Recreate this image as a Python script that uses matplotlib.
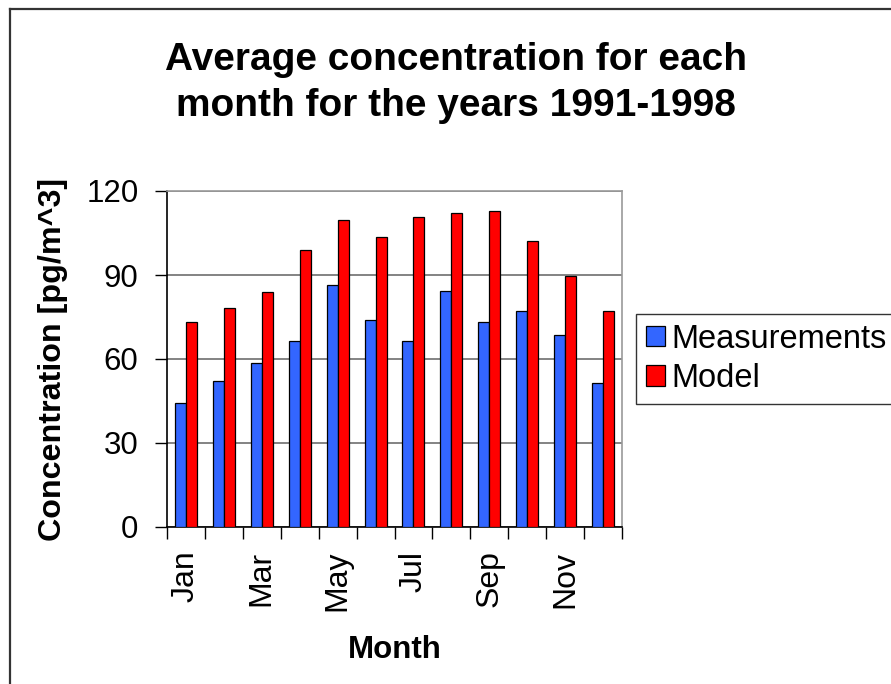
import matplotlib
matplotlib.use("Agg")
import matplotlib.pyplot as plt
import numpy as np
from matplotlib.lines import Line2D

months = ["Jan", "Feb", "Mar", "Apr", "May", "Jun",
          "Jul", "Aug", "Sep", "Oct", "Nov", "Dec"]
measurements = [44.4, 52.0, 58.5, 66.3, 86.3, 73.9, 66.4, 84.4, 73.2, 77.1, 68.5, 51.3]
model = [73.1, 78.3, 83.8, 99.0, 109.5, 103.5, 110.7, 112.3, 112.7, 102.3, 89.5, 77.1]
yticks = [0, 30, 60, 90, 120]

plt.rcParams['font.family'] = ['Liberation Sans', 'DejaVu Sans']

W, H = 891, 684
fig = plt.figure(figsize=(W / 100, H / 100), dpi=100)
fig.patch.set_facecolor('white')

# outer chart frame (extends past right/bottom edges)
fig.add_artist(Line2D([10 / W, 10 / W], [0, 1 - 9 / H], transform=fig.transFigure,
                      color='#333333', lw=1.6))
fig.add_artist(Line2D([10 / W, 1], [1 - 9 / H, 1 - 9 / H], transform=fig.transFigure,
                      color='#333333', lw=1.6))

left, right, top, bottom = 167, 622, 191, 527
ax = fig.add_axes([left / W, 1 - bottom / H, (right - left) / W, (bottom - top) / H])

x = np.arange(len(months))
w = 0.29
ax.bar(x - w / 2, measurements, w, color='#3366FF', edgecolor='black', linewidth=0.9,
       label='Measurements', zorder=3)
ax.bar(x + w / 2, model, w, color='#FF0000', edgecolor='black', linewidth=0.9,
       label='Model', zorder=3)

ax.set_xlim(-0.5, len(months) - 0.5)
ax.set_ylim(0, 120)
ax.set_yticks(yticks)
ax.set_yticklabels([str(v) for v in yticks], fontsize=22.5)
ax.yaxis.grid(True, color='#6e6e6e', linewidth=1.2, zorder=0)
ax.set_axisbelow(True)

# major ticks at category boundaries, labels at every other category center
ax.set_xticks(np.arange(-0.5, len(months), 1.0))
ax.set_xticklabels([])
ax.set_xticks(x[::2], minor=True)
ax.set_xticklabels(months[::2], minor=True, rotation=90, fontsize=23)
ax.tick_params(axis='x', which='minor', length=0, pad=17)
ax.tick_params(axis='x', which='major', length=8.6, width=1, direction='out', color='black')
ax.tick_params(axis='y', length=8.6, width=1, direction='out', pad=12, color='black')

for s in ['top', 'right']:
    ax.spines[s].set_color('#9a9a9a')
    ax.spines[s].set_linewidth(1.2)
for s in ['left', 'bottom']:
    ax.spines[s].set_color('black')
    ax.spines[s].set_linewidth(1.2)

ax.set_ylabel('Concentration [pg/m^3]', fontsize=23.2, fontweight='bold', labelpad=13)
ax.set_xlabel('Month', fontsize=22.5, fontweight='bold', labelpad=17)

fig.text(456 / W, 1 - 83 / H, 'Average concentration for each\nmonth for the years 1991-1998',
         ha='center', va='center', fontsize=28, fontweight='bold', linespacing=1.38)

leg = ax.legend(loc='upper left', bbox_to_anchor=(636 / W, 1 - 314 / H),
                bbox_transform=fig.transFigure, fontsize=23.5, frameon=True,
                fancybox=False, edgecolor='black', handlelength=0.58, handleheight=0.58,
                handletextpad=0.2, borderpad=0.3, labelspacing=0.25, borderaxespad=0)
leg.get_frame().set_linewidth(1.0)

fig.savefig('out.png', dpi=100)
